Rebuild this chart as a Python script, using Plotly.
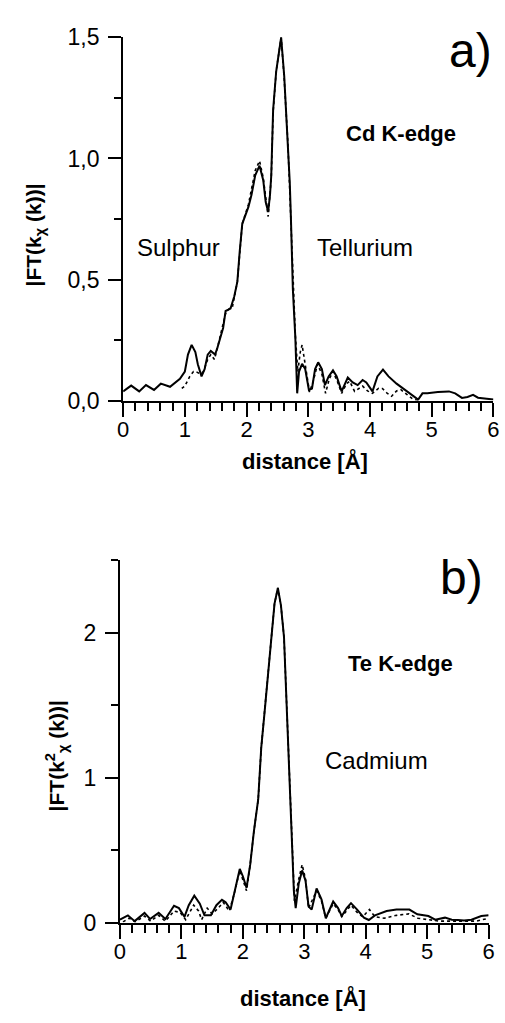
import plotly.graph_objects as go

W, H = 505, 1023

# ---------------- Panel a) Cd K-edge ----------------
a_exp_x = [0.00, 0.13, 0.26, 0.37, 0.50, 0.61, 0.76, 0.92, 1.00, 1.05, 1.11, 1.17, 1.21, 1.27,
           1.32, 1.37, 1.42, 1.49, 1.53, 1.58, 1.62, 1.66, 1.74, 1.80, 1.85, 1.89, 1.93, 2.03,
           2.08, 2.14, 2.21, 2.27, 2.31, 2.35, 2.38, 2.40, 2.43, 2.48, 2.53, 2.56, 2.61, 2.67,
           2.70, 2.72, 2.75, 2.79, 2.81, 2.82, 2.85, 2.90, 2.95, 3.01, 3.06, 3.11, 3.16, 3.22,
           3.27, 3.33, 3.40, 3.46, 3.54, 3.59, 3.64, 3.72, 3.80, 3.88, 3.94, 4.04, 4.12, 4.21,
           4.30, 4.43, 4.51, 4.59, 4.68, 4.78, 4.85, 4.93, 5.10, 5.28, 5.38, 5.49, 5.58, 5.67,
           5.75, 5.85, 6.00]
a_exp_y = [0.038, 0.062, 0.038, 0.064, 0.044, 0.070, 0.057, 0.090, 0.120, 0.190, 0.230, 0.200,
           0.150, 0.100, 0.130, 0.190, 0.205, 0.190, 0.220, 0.270, 0.300, 0.370, 0.380, 0.430,
           0.490, 0.620, 0.730, 0.800, 0.850, 0.930, 0.970, 0.910, 0.820, 0.780, 0.850, 0.930,
           1.200, 1.360, 1.450, 1.500, 1.340, 1.070, 0.900, 0.740, 0.460, 0.260, 0.100, 0.030,
           0.120, 0.152, 0.130, 0.044, 0.050, 0.130, 0.158, 0.130, 0.064, 0.100, 0.125, 0.100,
           0.038, 0.070, 0.095, 0.075, 0.064, 0.085, 0.075, 0.038, 0.100, 0.128, 0.100, 0.070,
           0.055, 0.038, 0.020, 0.004, 0.030, 0.030, 0.035, 0.038, 0.030, 0.011, 0.015, 0.024,
           0.012, 0.008, 0.005]

a_fit_x = [0.95, 1.00, 1.08, 1.14, 1.19, 1.25, 1.30, 1.37, 1.42, 1.48, 1.53, 1.60, 1.66, 1.72,
           1.77, 1.85, 1.93, 2.03, 2.14, 2.21, 2.27, 2.35, 2.40, 2.43, 2.48, 2.56, 2.61, 2.67,
           2.72, 2.75, 2.79, 2.83, 2.87, 2.90, 2.94, 3.02, 3.08, 3.15, 3.22, 3.28, 3.34, 3.40,
           3.47, 3.54, 3.62, 3.67, 3.75, 3.82, 3.88, 3.96, 4.04, 4.14, 4.20, 4.28, 4.35, 4.43,
           4.50, 4.60, 4.70, 4.80]
a_fit_y = [0.050, 0.060, 0.100, 0.120, 0.118, 0.110, 0.120, 0.170, 0.190, 0.170, 0.220, 0.300,
           0.360, 0.380, 0.386, 0.490, 0.730, 0.810, 0.950, 0.990, 0.920, 0.760, 0.920, 1.190,
           1.360, 1.500, 1.330, 1.060, 0.730, 0.470, 0.270, 0.120, 0.200, 0.230, 0.160, 0.035,
           0.080, 0.150, 0.110, 0.030, 0.090, 0.120, 0.080, 0.030, 0.070, 0.080, 0.038, 0.050,
           0.060, 0.040, 0.030, 0.051, 0.050, 0.030, 0.018, 0.040, 0.045, 0.025, 0.005, 0.000]

# ---------------- Panel b) Te K-edge ----------------
b_exp_x = [0.00, 0.13, 0.24, 0.40, 0.49, 0.63, 0.74, 0.88, 0.96, 1.05, 1.12, 1.21, 1.30, 1.375,
           1.48, 1.57, 1.66, 1.72, 1.80, 1.86, 1.95, 2.00, 2.06, 2.12, 2.18, 2.25, 2.30, 2.36,
           2.41, 2.46, 2.515, 2.57, 2.62, 2.67, 2.70, 2.74, 2.78, 2.81, 2.83, 2.86, 2.91, 2.965,
           3.02, 3.07, 3.12, 3.20, 3.28, 3.35, 3.47, 3.55, 3.61, 3.69, 3.76, 3.86, 3.97, 4.05,
           4.15, 4.34, 4.50, 4.71, 4.84, 5.02, 5.13, 5.29, 5.40, 5.50, 5.60, 5.72, 5.88, 6.00]
b_exp_y = [0.020, 0.050, 0.010, 0.067, 0.025, 0.067, 0.025, 0.116, 0.100, 0.040, 0.120, 0.186,
           0.130, 0.050, 0.050, 0.120, 0.157, 0.140, 0.090, 0.200, 0.370, 0.320, 0.240, 0.400,
           0.630, 0.850, 1.210, 1.480, 1.700, 1.970, 2.200, 2.310, 2.190, 1.970, 1.640, 1.300,
           0.850, 0.490, 0.220, 0.100, 0.270, 0.360, 0.290, 0.110, 0.090, 0.235, 0.160, 0.030,
           0.145, 0.100, 0.045, 0.100, 0.134, 0.090, 0.034, 0.018, 0.050, 0.080, 0.090, 0.090,
           0.057, 0.045, 0.020, 0.034, 0.020, 0.018, 0.015, 0.020, 0.045, 0.050]

b_fit_x = [0.05, 0.15, 0.25, 0.40, 0.50, 0.63, 0.74, 0.88, 0.98, 1.07, 1.20, 1.28, 1.33, 1.42,
           1.50, 1.60, 1.68, 1.78, 1.86, 1.95, 2.06, 2.12, 2.18, 2.25, 2.30, 2.36, 2.41, 2.46,
           2.515, 2.57, 2.62, 2.67, 2.70, 2.74, 2.78, 2.81, 2.84, 2.91, 2.965, 3.02, 3.07, 3.20,
           3.28, 3.35, 3.47, 3.55, 3.61, 3.76, 3.86, 3.95, 4.06, 4.15, 4.30, 4.50, 4.70, 4.85,
           5.00, 5.20, 5.50, 5.80, 6.00]
b_fit_y = [0.005, 0.030, 0.005, 0.045, 0.010, 0.050, 0.010, 0.080, 0.070, 0.020, 0.120, 0.080,
           0.020, 0.100, 0.060, 0.100, 0.140, 0.080, 0.200, 0.360, 0.220, 0.400, 0.630, 0.850,
           1.210, 1.480, 1.700, 1.970, 2.200, 2.310, 2.190, 1.970, 1.640, 1.300, 0.850, 0.490,
           0.150, 0.300, 0.400, 0.300, 0.100, 0.220, 0.150, 0.030, 0.130, 0.090, 0.040, 0.120,
           0.070, 0.040, 0.090, 0.040, 0.030, 0.050, 0.060, 0.030, 0.020, 0.010, 0.010, 0.010,
           0.030]

a_yticks = [0.0, 0.5, 1.0, 1.5]
b_yticks = [0, 1, 2]
x_ticks = [0, 1, 2, 3, 4, 5, 6]

FONT = "Liberation Sans, Arial, sans-serif"

fig = go.Figure()
fig.add_trace(go.Scatter(x=a_fit_x, y=a_fit_y, mode="lines",
                         line=dict(color="black", width=1.6, dash="dot"),
                         xaxis="x", yaxis="y", showlegend=False))
fig.add_trace(go.Scatter(x=a_exp_x, y=a_exp_y, mode="lines",
                         line=dict(color="black", width=2),
                         xaxis="x", yaxis="y", showlegend=False))
fig.add_trace(go.Scatter(x=b_fit_x, y=b_fit_y, mode="lines",
                         line=dict(color="black", width=1.6, dash="dot"),
                         xaxis="x2", yaxis="y2", showlegend=False))
fig.add_trace(go.Scatter(x=b_exp_x, y=b_exp_y, mode="lines",
                         line=dict(color="black", width=2),
                         xaxis="x2", yaxis="y2", showlegend=False))


def px(x):
    return x / W


def py(y):
    return 1 - y / H


common_x = dict(range=[0, 6], tickvals=x_ticks, showline=True, linecolor="black",
                linewidth=2, ticks="outside", ticklen=14, tickwidth=2, tickcolor="black",
                showgrid=False, zeroline=False, ticklabelstandoff=-6,
                tickfont=dict(family=FONT, size=22, color="black"),
                minor=dict(dtick=0.2, tick0=0, ticks="outside", ticklen=8, tickwidth=2,
                           tickcolor="black", showgrid=False))
common_y = dict(showline=True, linecolor="black", linewidth=2, ticks="outside",
                ticklen=13, tickwidth=2, tickcolor="black", showgrid=False,
                zeroline=False, ticklabelstandoff=4,
                tickfont=dict(family=FONT, size=23, color="black"))

fig.update_layout(
    width=W, height=H,
    margin=dict(l=0, r=0, t=0, b=0),
    paper_bgcolor="white", plot_bgcolor="white",
    separators=",.",
    xaxis=dict(common_x, domain=[px(120), px(499.3)], anchor="y"),
    yaxis=dict(common_y, domain=[py(397.7), py(25)], anchor="x", range=[0, 1.5],
               tickvals=a_yticks, tickformat=".1f",
               minor=dict(dtick=0.25, tick0=0, ticks="outside", ticklen=7, tickwidth=2,
                          tickcolor="black", showgrid=False)),
    xaxis2=dict(common_x, domain=[px(116.7), px(494.4)], anchor="y2"),
    yaxis2=dict(common_y, domain=[py(933.3), py(561.7)], anchor="x2", range=[0, 2.5],
                tickvals=b_yticks, tickformat="d",
                minor=dict(dtick=0.5, tick0=0, ticks="outside", ticklen=7, tickwidth=2,
                           tickcolor="black", showgrid=False)),
)


def ann(text, x, y, size, bold=False, angle=0):
    fig.add_annotation(text=f"<b>{text}</b>" if bold else text,
                       x=px(x), y=py(y), xref="paper", yref="paper",
                       xanchor="center", yanchor="middle", showarrow=False,
                       textangle=angle,
                       font=dict(family=FONT, size=size, color="black"))


ann("a)", 476, 38, 48)
ann("Cd K-edge", 405, 124, 22, bold=True)
ann("Sulphur", 177, 241, 24)
ann("Tellurium", 368, 241, 24)
ann("|FT(k<sub>χ</sub> (k))|", 30, 228, 21, bold=True, angle=-90)
ann("distance [Å]", 306, 460, 22, bold=True)

ann("b)", 467, 579, 48)
ann("Te K-edge", 404, 667, 22, bold=True)
ann("Cadmium", 380, 767, 24)
ann("|FT(k<sup>2</sup><sub>χ</sub> (k))|", 52, 762, 21, bold=True, angle=-90)
ann("distance [Å]", 304, 1011, 22, bold=True)

fig.write_html("out.html")
